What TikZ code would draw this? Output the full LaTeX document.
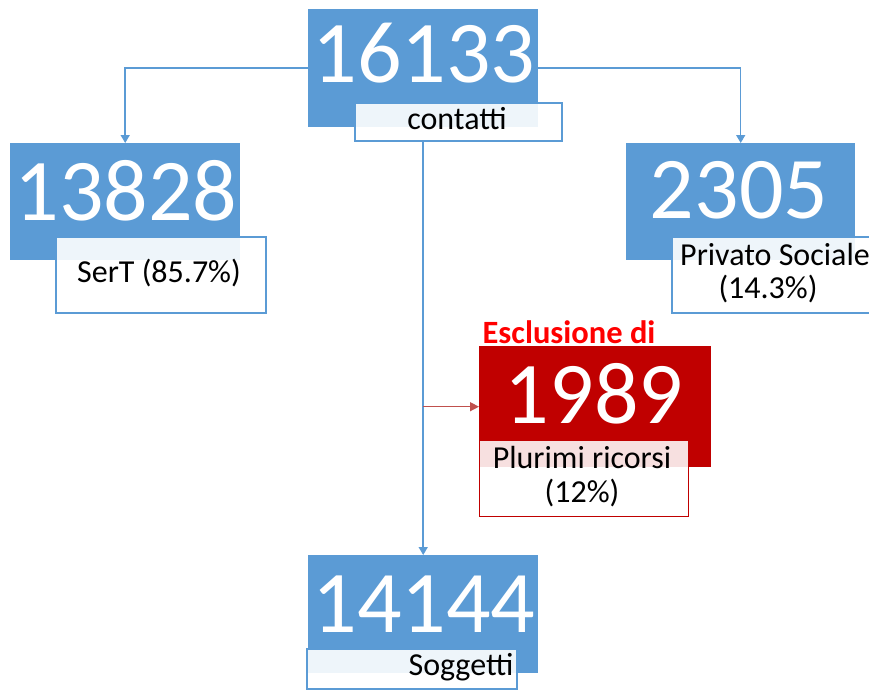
\documentclass[tikz,border=0pt]{standalone}
\usepackage{fontspec}
\setmainfont{Carlito}
\usetikzlibrary{arrows.meta}
\definecolor{bluebox}{HTML}{5B9BD5}
\definecolor{redbox}{HTML}{C00000}
\definecolor{redtxt}{HTML}{FF0000}
\definecolor{redline}{HTML}{C0504D}
\tikzset{
  numbox/.style={fill=bluebox, draw=none, inner sep=0pt, anchor=north west},
  rednumbox/.style={fill=redbox, draw=none, inner sep=0pt, anchor=north west},
  labbox/.style={fill=white, fill opacity=0.9, draw=bluebox, line width=1.8pt, inner sep=0pt, anchor=north west},
  redlabbox/.style={fill=white, fill opacity=0.88, draw=redbox, line width=1.4pt, inner sep=0pt, anchor=north west},
  numtxt/.style={text=white, font=\fontsize{88}{88}\selectfont, inner sep=0pt, anchor=base},
  labtxt/.style={text=black, font=\fontsize{32}{32}\selectfont, inner sep=0pt, anchor=base},
  conn/.style={draw=bluebox, line width=1.5pt, -{Triangle[width=9pt,length=8pt]}},
  redconn/.style={draw=redline, line width=1.5pt, -{Triangle[width=9pt,length=9pt]}},
}
\begin{document}
\begin{tikzpicture}[x=1pt,y=-1pt]
\useasboundingbox (0,0) rectangle (869,690);
% boxes
\node[numbox, minimum width=230pt, minimum height=118pt] (top) at (308,9) {};
\node[numbox, minimum width=230pt, minimum height=117pt] (b1) at (10,143) {};
\node[numbox, minimum width=229pt, minimum height=117pt] (b2) at (626,143) {};
\node[rednumbox, minimum width=232pt, minimum height=121pt] (b3) at (479,346) {};
\node[numbox, minimum width=230pt, minimum height=118pt] (b4) at (308,555) {};
% label boxes
\node[labbox, minimum width=207pt, minimum height=38pt] (l0) at (354,102) {};
\node[labbox, minimum width=210pt, minimum height=76pt] (l1) at (55,236) {};
\node[labbox, minimum width=205pt, minimum height=76pt] (l2) at (671,236) {};
\node[redlabbox, minimum width=209pt, minimum height=76pt] (l3) at (479,440) {};
\node[labbox, minimum width=210pt, minimum height=40pt] (l4) at (306,648) {};
% numbers
\node[numtxt] (n0) at (424,83) {16133};
\node[numtxt] (n1) at (126,220) {13828};
\node[numtxt] (n2) at (739,218) {2305};
\node[numtxt] (n3) at (594,423) {1989};
\node[numtxt] (n4) at (424,632) {14144};
% label texts
\node[labtxt] (t0) at (457,129) {contatti};
\node[labtxt] (t1) at (159,282) {SerT (85.7\%)};
\node[labtxt] (t2a) at (775,265) {Privato Sociale};
\node[labtxt] (t2b) at (768,298) {(14.3\%)};
\node[labtxt] (t3a) at (582,468) {Plurimi ricorsi};
\node[labtxt] (t3b) at (582,502) {(12\%)};
\node[labtxt] (t4) at (461,675) {Soggetti};
\node[labtxt, text=redtxt, font=\fontsize{32.5}{32.5}\selectfont\bfseries] (ex) at (569,343) {Esclusione di};
% connectors
\draw[conn] (top.west) -| (b1.north);
\draw[conn] (top.east) -| (b2.north);
\draw[conn] (top.south |- l0.south) -- (b4.north);
\coordinate (rs) at (top.south |- b3.west);
\draw[redconn] (rs) -- (b3.west);
\end{tikzpicture}
\end{document}
